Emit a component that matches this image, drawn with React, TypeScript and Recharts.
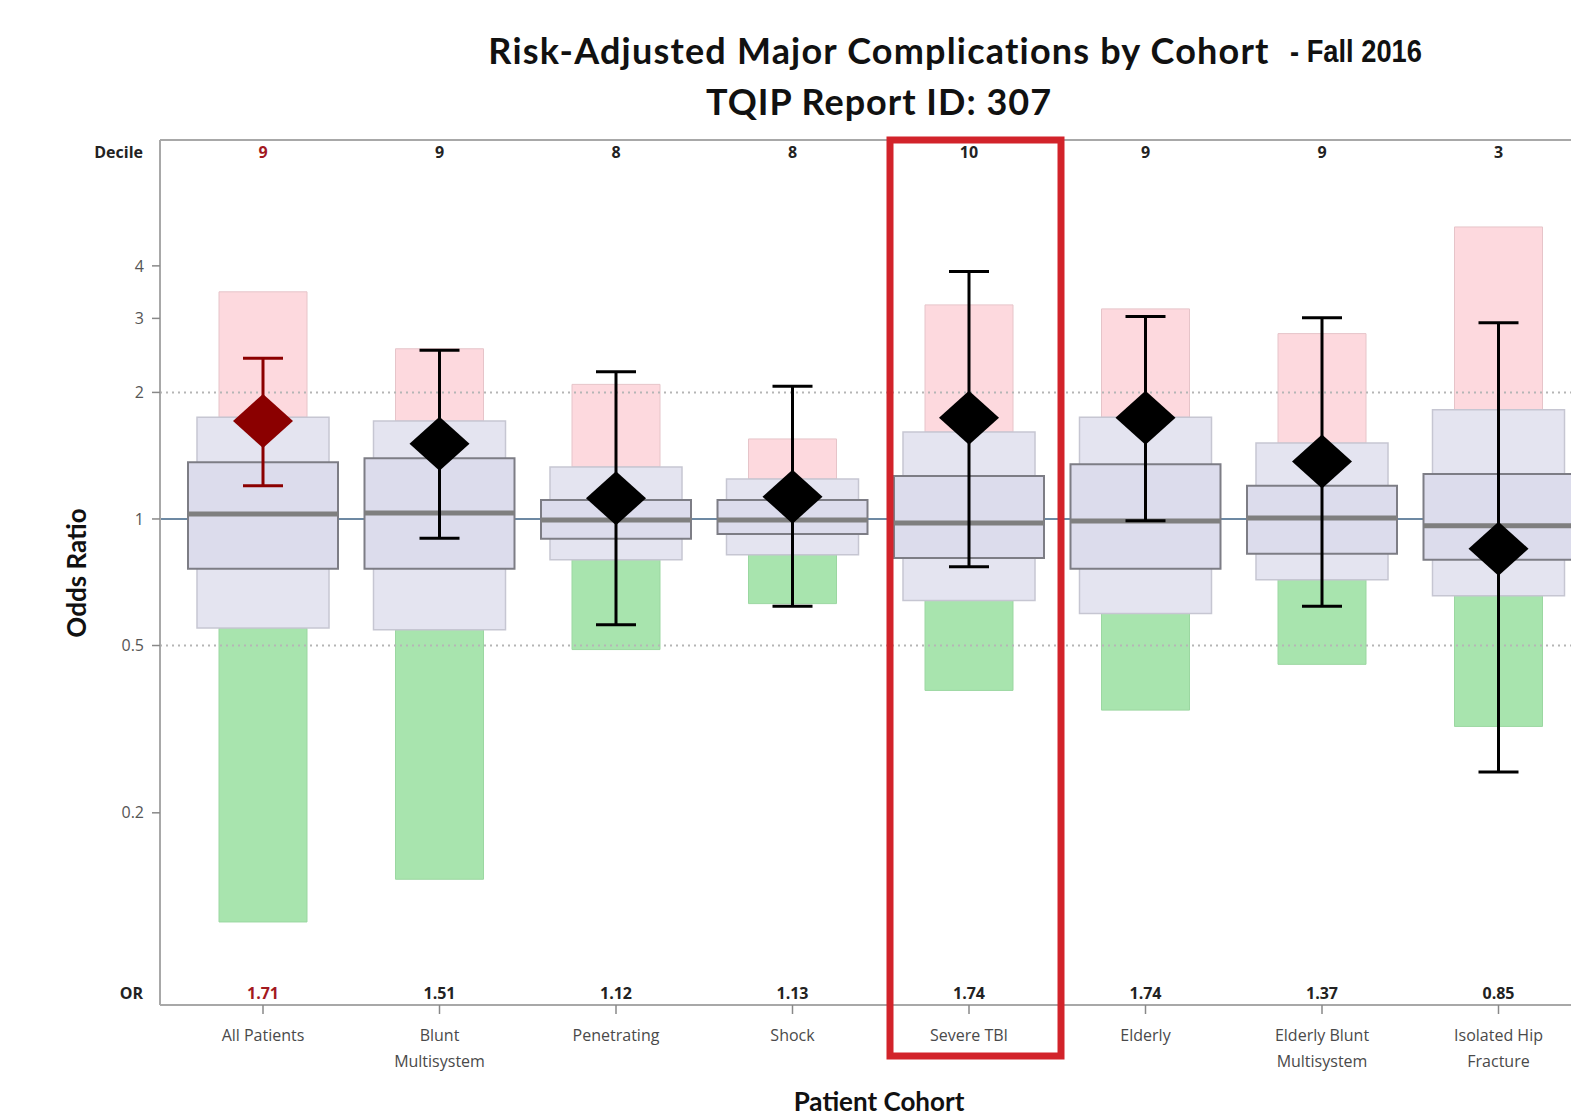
import {
  ComposedChart,
  Scatter,
  ErrorBar,
  XAxis,
  YAxis,
  ReferenceArea,
  ReferenceLine,
} from "recharts";

// Cohorts on the x axis ("\n" splits the two-line labels)
const cohorts = [
  "All Patients",
  "Blunt\nMultisystem",
  "Penetrating",
  "Shock",
  "Severe TBI",
  "Elderly",
  "Elderly Blunt\nMultisystem",
  "Isolated Hip\nFracture",
];
const deciles = [9, 9, 8, 8, 10, 9, 9, 3];
const oddsRatios = [1.71, 1.51, 1.12, 1.13, 1.74, 1.74, 1.37, 0.85];
const ciLow = [1.2, 0.9, 0.56, 0.62, 0.77, 0.99, 0.62, 0.25];
const ciHigh = [2.41, 2.52, 2.24, 2.07, 3.88, 3.03, 3.01, 2.93];
// worse-than-expected (pink) and better-than-expected (green) zones
const worseTop = [3.47, 2.54, 2.09, 1.55, 3.23, 3.16, 2.76, 4.95];
const betterBottom = [0.11, 0.139, 0.489, 0.629, 0.391, 0.351, 0.451, 0.321];
// lavender boxes: outer band, inner band, median
const outerHigh = [1.745, 1.71, 1.33, 1.245, 1.61, 1.745, 1.515, 1.82];
const outerLow = [0.55, 0.545, 0.8, 0.822, 0.64, 0.596, 0.717, 0.657];
const innerHigh = [1.365, 1.395, 1.11, 1.11, 1.265, 1.35, 1.2, 1.28];
const innerLow = [0.761, 0.761, 0.897, 0.921, 0.808, 0.761, 0.826, 0.8];
const medians = [1.028, 1.033, 0.995, 0.995, 0.978, 0.989, 1.005, 0.963];
const flagged = [true, false, false, false, false, false, false, false];
const highlightedCohort = 4;
const yTicks = [0.2, 0.5, 1, 2, 3, 4];
const xTicks = cohorts.map((_, i) => i);

const WIDTH = 1571;
const HEIGHT = 1118;
const PLOT_LEFT = 160;
const PLOT_TOP = 140;
const PLOT_BOTTOM = 1005;
const STEP = 176.5; // px per cohort
const FIRST_CENTER = 263;
const X_DOMAIN = [(PLOT_LEFT - FIRST_CENTER) / STEP, (WIDTH - FIRST_CENTER) / STEP];
const Y_DOMAIN = [0.0698, 7.97];

const ZONE_HALF = 44 / STEP;
const OUTER_HALF = 66 / STEP;
const INNER_HALF = 75 / STEP;

const FONT = "'Open Sans', sans-serif";
const TITLE_FONT = "Lato, 'Open Sans', sans-serif";
const RED = "#8b0000";
const TEXT_RED = "#a3191f";
const FRAME = "#a8a8a8";

const points = cohorts.map((_, i) => ({
  x: i,
  y: oddsRatios[i],
  ci: [oddsRatios[i] - ciLow[i], ciHigh[i] - oddsRatios[i]],
}));
const flaggedPoints = points.filter((_, i) => flagged[i]);
const otherPoints = points.filter((_, i) => !flagged[i]);

const Diamond = (props: any) => {
  const { cx, cy, fill } = props;
  if (cx == null || cy == null) return null;
  return (
    <polygon
      points={`${cx},${cy - 27} ${cx + 30},${cy} ${cx},${cy + 27} ${cx - 30},${cy}`}
      fill={fill}
    />
  );
};

const TICK_SIZE = 9;
const TICK_MARGIN = 4;

const CohortTick = (props: any) => {
  const { x, y, payload } = props;
  const i = payload.value as number;
  const axisY = y - TICK_SIZE - TICK_MARGIN;
  const lines = cohorts[i].split("\n");
  return (
    <g>
      <text
        x={x}
        y={axisY - 6}
        textAnchor="middle"
        fontFamily={FONT}
        fontWeight={700}
        fontSize={16}
        fill={flagged[i] ? TEXT_RED : "#222"}
      >
        {oddsRatios[i].toFixed(2)}
      </text>
      {lines.map((line, k) => (
        <text
          key={k}
          x={x}
          y={axisY + 36 + k * 26}
          textAnchor="middle"
          fontFamily={FONT}
          fontSize={16}
          fill="#4a4a4a"
        >
          {line}
        </text>
      ))}
      {i === highlightedCohort && (
        <rect
          x={x - 79}
          y={axisY - (PLOT_BOTTOM - PLOT_TOP)}
          width={171}
          height={PLOT_BOTTOM - PLOT_TOP + 51}
          fill="none"
          stroke="#d2232a"
          strokeWidth={7}
        />
      )}
    </g>
  );
};

const DecileTick = (props: any) => {
  const { x, y, payload } = props;
  const i = payload.value as number;
  return (
    <text
      x={x}
      y={y + 18}
      textAnchor="middle"
      fontFamily={FONT}
      fontWeight={700}
      fontSize={16}
      fill={flagged[i] ? TEXT_RED : "#222"}
    >
      {deciles[i]}
    </text>
  );
};

const abs = (style: React.CSSProperties): React.CSSProperties => ({
  position: "absolute",
  whiteSpace: "nowrap",
  ...style,
});

export default function App() {
  return (
    <div style={{ position: "absolute", left: 0, top: 0, width: WIDTH, height: HEIGHT, background: "#fff", overflow: "hidden" }}>
      <ComposedChart
        width={WIDTH}
        height={HEIGHT}
        margin={{ top: 120, right: 0, bottom: 33, left: 100 }}
      >
        <XAxis
          xAxisId="top"
          orientation="top"
          type="number"
          dataKey="x"
          domain={X_DOMAIN}
          ticks={xTicks}
          allowDataOverflow
          height={20}
          tickSize={0}
          tickMargin={0}
          tickLine={false}
          axisLine={{ stroke: FRAME, strokeWidth: 2 }}
          tick={<DecileTick />}
          interval={0}
        />
        <YAxis
          type="number"
          scale="log"
          domain={Y_DOMAIN}
          ticks={yTicks}
          allowDataOverflow
          width={60}
          tickSize={8}
          tickMargin={8}
          axisLine={{ stroke: FRAME, strokeWidth: 2 }}
          tickLine={{ stroke: "#888", strokeWidth: 1.5 }}
          tick={{ fontFamily: FONT, fontSize: 16, fill: "#555" }}
          tickFormatter={(v) => String(v)}
          interval={0}
        />
        <ReferenceLine y={1} stroke="#6d89a3" strokeWidth={2} zIndex={10} />
        {cohorts.map((_, i) => (
          <ReferenceArea
            key={`worse-${i}`}
            x1={i - ZONE_HALF}
            x2={i + ZONE_HALF}
            y1={outerHigh[i]}
            y2={worseTop[i]}
            fill="#fdd9de"
            fillOpacity={1}
            stroke="#e6c4c9"
            strokeWidth={1}
            ifOverflow="hidden"
            zIndex={20}
          />
        ))}
        {cohorts.map((_, i) => (
          <ReferenceArea
            key={`better-${i}`}
            x1={i - ZONE_HALF}
            x2={i + ZONE_HALF}
            y1={betterBottom[i]}
            y2={outerLow[i]}
            fill="#a8e4ae"
            fillOpacity={1}
            stroke="#9bd7a1"
            strokeWidth={1}
            ifOverflow="hidden"
            zIndex={20}
          />
        ))}
        <ReferenceLine y={2} stroke="#b5b5b5" strokeWidth={2} strokeDasharray="2 4" zIndex={30} />
        <ReferenceLine y={0.5} stroke="#b5b5b5" strokeWidth={2} strokeDasharray="2 4" zIndex={30} />
        {cohorts.map((_, i) => (
          <ReferenceArea
            key={`outer-${i}`}
            x1={i - OUTER_HALF}
            x2={i + OUTER_HALF}
            y1={outerLow[i]}
            y2={outerHigh[i]}
            fill="#e4e4f0"
            fillOpacity={1}
            stroke="#c6c6d2"
            strokeWidth={1.5}
            ifOverflow="hidden"
            zIndex={40}
          />
        ))}
        {cohorts.map((_, i) => (
          <ReferenceArea
            key={`inner-${i}`}
            x1={i - INNER_HALF}
            x2={i + INNER_HALF}
            y1={innerLow[i]}
            y2={innerHigh[i]}
            fill="#dcdcec"
            fillOpacity={1}
            stroke="#7d7d85"
            strokeWidth={2}
            ifOverflow="hidden"
            zIndex={50}
          />
        ))}
        {cohorts.map((_, i) => (
          <ReferenceLine
            key={`median-${i}`}
            segment={[
              { x: i - INNER_HALF, y: medians[i] },
              { x: i + INNER_HALF, y: medians[i] },
            ]}
            stroke="#7f7f7f"
            strokeWidth={5}
            ifOverflow="hidden"
            zIndex={60}
          />
        ))}
        <Scatter
          data={otherPoints}
          dataKey="y"
          fill="#000"
          shape={<Diamond />}
          isAnimationActive={false}
          zIndex={70}
        >
          <ErrorBar dataKey="ci" direction="y" width={20} stroke="#000" strokeWidth={3} />
        </Scatter>
        <Scatter
          data={flaggedPoints}
          dataKey="y"
          fill={RED}
          shape={<Diamond />}
          isAnimationActive={false}
          zIndex={70}
        >
          <ErrorBar dataKey="ci" direction="y" width={20} stroke={RED} strokeWidth={3} />
        </Scatter>
        <XAxis
          type="number"
          dataKey="x"
          domain={X_DOMAIN}
          ticks={xTicks}
          allowDataOverflow
          height={80}
          tickSize={TICK_SIZE}
          tickMargin={TICK_MARGIN}
          axisLine={{ stroke: FRAME, strokeWidth: 2 }}
          tickLine={{ stroke: "#888", strokeWidth: 1.5 }}
          tick={<CohortTick />}
          interval={0}
        />
      </ComposedChart>

      <div style={abs({ left: 879, top: 27, transform: "translateX(-50%)", fontFamily: TITLE_FONT, fontWeight: 700, fontSize: 36, letterSpacing: "1.2px", lineHeight: "46px", color: "#111" })}>
        Risk-Adjusted Major Complications by Cohort
      </div>
      <div style={abs({ left: 1290, top: 34, fontFamily: "'Liberation Sans', Arial, sans-serif", fontWeight: 700, fontSize: 31, lineHeight: "36px", color: "#111", transform: "scaleX(0.88)", transformOrigin: "left center" })}>
        - Fall 2016
      </div>
      <div style={abs({ left: 879, top: 78, transform: "translateX(-50%)", fontFamily: TITLE_FONT, fontWeight: 700, fontSize: 36, letterSpacing: "1px", lineHeight: "46px", color: "#111" })}>
        TQIP Report ID: 307
      </div>
      <div style={abs({ right: WIDTH - 143, top: 141, fontFamily: FONT, fontWeight: 700, fontSize: 16, lineHeight: "22px", color: "#222" })}>
        Decile
      </div>
      <div style={abs({ right: WIDTH - 143, top: 982, fontFamily: FONT, fontWeight: 700, fontSize: 16, lineHeight: "22px", color: "#222" })}>
        OR
      </div>
      <div style={abs({ left: 76, top: 573, transform: "translate(-50%, -50%) rotate(-90deg)", fontFamily: TITLE_FONT, fontWeight: 700, fontSize: 26, lineHeight: "32px", color: "#111" })}>
        Odds Ratio
      </div>
      <div style={abs({ left: 879, top: 1101, transform: "translate(-50%, -50%)", fontFamily: TITLE_FONT, fontWeight: 700, fontSize: 26, lineHeight: "26px", color: "#111" })}>
        Patient Cohort
      </div>
    </div>
  );
}
